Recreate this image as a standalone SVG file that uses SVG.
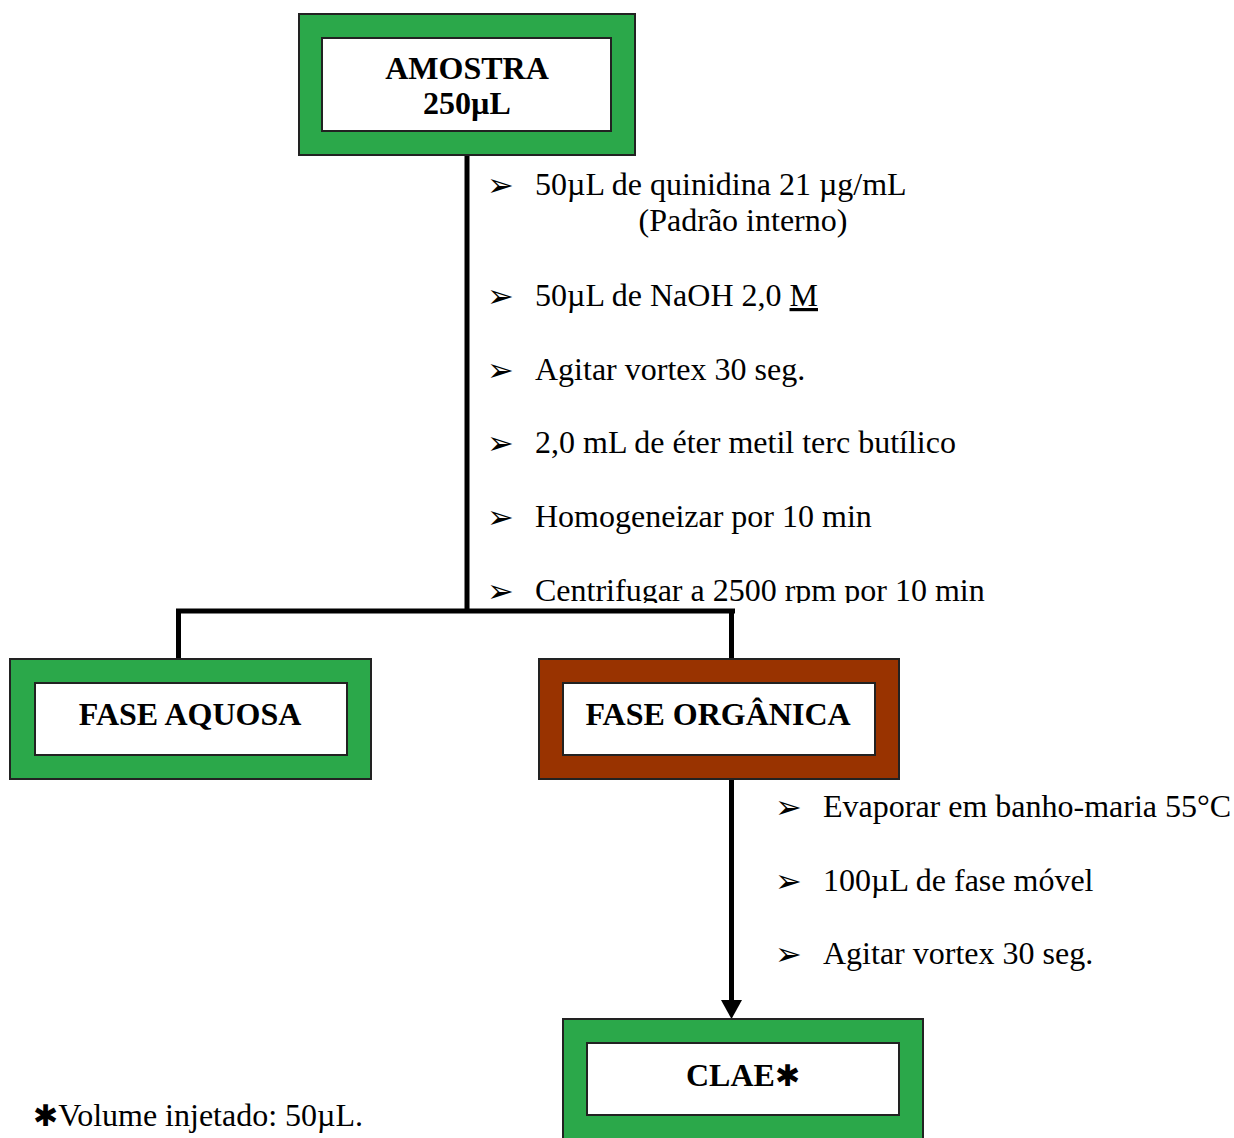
<svg xmlns="http://www.w3.org/2000/svg" width="1234" height="1138" viewBox="0 0 1234 1138">
<style>
.outer-g{fill:#2ba84a;stroke:#222;stroke-width:2}
.outer-b{fill:#993300;stroke:#222;stroke-width:2}
.inner{fill:#fff;stroke:#222;stroke-width:2}
.title{font-family:"Liberation Serif","Times New Roman",serif;font-weight:bold;font-size:32px;fill:#000;text-anchor:middle}
.step{font-family:"Liberation Serif","Times New Roman",serif;font-size:32px;fill:#000}
.bul{font-family:"DejaVu Sans",sans-serif;font-size:32px;fill:#000}
.ast{font-family:"DejaVu Sans",sans-serif;font-weight:bold;font-size:30px;fill:#000}
.ln{stroke:#000;stroke-width:5;fill:none}
</style>
<defs>
<clipPath id="clipC"><rect x="480" y="560" width="560" height="43"/></clipPath>
</defs>

<g id="connectors">
<line class="ln" x1="467" y1="155" x2="467" y2="611"/>
<line class="ln" x1="176" y1="611" x2="735" y2="611"/>
<line class="ln" x1="178.5" y1="609" x2="178.5" y2="660"/>
<line class="ln" x1="731.5" y1="609" x2="731.5" y2="660"/>
<line class="ln" x1="731.5" y1="779" x2="731.5" y2="1003"/>
<path d="M721,1000 L742,1000 L731.5,1019 Z" fill="#000"/>
</g>

<g id="node-amostra">
<rect class="outer-g" x="299" y="14" width="336" height="141"/>
<rect class="inner" x="322" y="38" width="289" height="93"/>
<text class="title" x="467" y="79">AMOSTRA</text>
<text class="title" x="467" y="114">250µL</text>
</g>

<g id="steps-1">
<text class="bul" x="487" y="196">➢</text>
<text class="step" x="535" y="195">50µL de quinidina 21 µg/mL</text>
<text class="step" x="743" y="231" text-anchor="middle">(Padrão interno)</text>
<text class="bul" x="487" y="307">➢</text>
<text class="step" x="535" y="306">50µL de NaOH  2,0 <tspan text-decoration="underline">M</tspan></text>
<text class="bul" x="487" y="381">➢</text>
<text class="step" x="535" y="380">Agitar vortex 30 seg.</text>
<text class="bul" x="487" y="454">➢</text>
<text class="step" x="535" y="453">2,0 mL de éter metil terc butílico</text>
<text class="bul" x="487" y="528">➢</text>
<text class="step" x="535" y="527">Homogeneizar por 10 min</text>
<g clip-path="url(#clipC)">
<text class="bul" x="487" y="602">➢</text>
<text class="step" x="535" y="601">Centrifugar a 2500 rpm por 10 min</text>
</g>
</g>

<g id="node-aquosa">
<rect class="outer-g" x="10" y="659" width="361" height="120"/>
<rect class="inner" x="35" y="683" width="312" height="72"/>
<text class="title" x="190" y="725">FASE AQUOSA</text>
</g>

<g id="node-organica">
<rect class="outer-b" x="539" y="659" width="360" height="120"/>
<rect class="inner" x="563" y="683" width="312" height="72"/>
<text class="title" x="718" y="725">FASE ORGÂNICA</text>
</g>

<g id="steps-2">
<text class="bul" x="775" y="818">➢</text>
<text class="step" x="823" y="817">Evaporar em banho-maria 55°C</text>
<text class="bul" x="775" y="892">➢</text>
<text class="step" x="823" y="891">100µL de fase móvel</text>
<text class="bul" x="775" y="965">➢</text>
<text class="step" x="823" y="964">Agitar vortex 30 seg.</text>
</g>

<g id="node-clae">
<rect class="outer-g" x="563" y="1019" width="360" height="130"/>
<rect class="inner" x="587" y="1043" width="312" height="72"/>
<text class="title" x="743" y="1086">CLAE<tspan class="ast">✱</tspan></text>
</g>

<g id="footnote">
<text class="step" x="33" y="1126"><tspan class="ast">✱</tspan>Volume injetado: 50µL.</text>
</g>
</svg>
